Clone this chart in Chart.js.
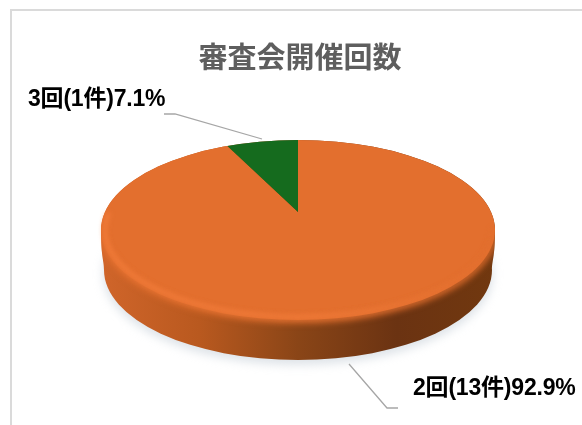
<!DOCTYPE html>
<html lang="ja">
<head>
<meta charset="utf-8">
<title>審査会開催回数</title>
<script src="https://cdn.jsdelivr.net/npm/chart.js@4/dist/chart.umd.min.js"></script>
<style>
  html, body { margin: 0; background: #fff; overflow: hidden; }
  #wrap { position: relative; width: 582px; height: 425px; overflow: hidden; }
  #frame { position: absolute; left: 10px; top: 9px; width: 572px; height: 416px; border-top: 2px solid #dadada; border-left: 2px solid #dadada; box-sizing: border-box; }
  canvas { position: absolute; left: 0; top: 0; }
</style>
</head>
<body>
<div id="wrap">
  <div id="frame"></div>
  <canvas id="chartKaisu" width="582" height="425"></canvas>
</div>
<script>
const chartTitle = "審査会開催回数";
const categorias = ["2回(13件)", "3回(1件)"];
const valores = [13, 1];
const porcentajes = ["92.9%", "7.1%"];
const colores = ["#e36f2e", "#156b1e"];

// the pie disc as it looks on screen
const disc = { x: 298, y: 230, rx: 197, ry: 90, depth: 40, bottomRx: 194 };
const tilt = 0.45;

const labelPos = [
  { x: 413, y: 389, line: [[349, 364], [387, 408], [398, 408]] },
  { x: 28, y: 100, line: [[164, 114], [175, 114], [262, 139]] },
];

const ellipsePath = (ctx, cy, rx, ry) => {
  ctx.beginPath();
  ctx.ellipse(disc.x, cy, rx, ry, 0, 0, Math.PI * 2);
};

// outline of the whole disc with its side wall
const sidePath = (ctx) => {
  const bottomY = disc.y + disc.depth;
  const { x, y, rx, ry, bottomRx } = disc;
  ctx.beginPath();
  ctx.ellipse(x, y, rx, ry, 0, Math.PI, 0, false);
  ctx.bezierCurveTo(x + rx, y + 28, x + bottomRx, y + 30, x + bottomRx, bottomY);
  ctx.ellipse(x, bottomY, bottomRx, ry, 0, 0, Math.PI);
  ctx.bezierCurveTo(x - bottomRx, y + 30, x - rx, y + 28, x - rx, y);
  ctx.closePath();
};

const pie3d = {
  id: "pie3d",
  beforeDatasetsDraw(chart) {
    const ctx = chart.ctx;
    const bottomY = disc.y + disc.depth;

    ctx.save();
    ctx.filter = "blur(5px)";
    ctx.fillStyle = "rgba(190,200,210,0.5)";
    ellipsePath(ctx, bottomY + 4, disc.bottomRx + 1, disc.ry + 1);
    ctx.fill();
    ctx.restore();

    const side = ctx.createLinearGradient(disc.x - disc.rx, 0, disc.x + disc.rx, 0);
    side.addColorStop(0, "#d0652a");
    side.addColorStop(0.25, "#b9591f");
    side.addColorStop(0.5, "#8a4517");
    side.addColorStop(0.75, "#6b3312");
    side.addColorStop(1, "#71380f");

    ctx.save();
    ctx.fillStyle = side;
    sidePath(ctx);
    ctx.fill();
    ctx.restore();
  },
  beforeDatasetDraw(chart) {
    const ctx = chart.ctx;
    const arc = chart.getDatasetMeta(0).data[0];
    ctx.save();
    ellipsePath(ctx, disc.y, disc.rx, disc.ry);
    ctx.clip();
    ctx.translate(arc.x, arc.y);
    ctx.scale(1, tilt);
    ctx.translate(-arc.x, -arc.y);
  },
  afterDatasetDraw(chart) {
    const ctx = chart.ctx;
    ctx.restore();

    // soft rim between the face and the side wall
    ctx.save();
    sidePath(ctx);
    ctx.clip();
    ctx.filter = "blur(3px)";
    ctx.strokeStyle = "#e36f2e";
    ctx.lineWidth = 6;
    ctx.beginPath();
    ctx.ellipse(disc.x, disc.y, disc.rx, disc.ry, 0, 0, Math.PI);
    ctx.stroke();
    ctx.restore();

    // lighter bevel towards the lower left of the face
    const bevel = ctx.createLinearGradient(disc.x - disc.rx, 0, disc.x + disc.rx, 0);
    bevel.addColorStop(0, "rgba(247,128,62,0.8)");
    bevel.addColorStop(0.55, "rgba(247,128,62,0.7)");
    bevel.addColorStop(1, "rgba(247,128,62,0)");

    ctx.save();
    ctx.filter = "blur(2.5px)";
    ctx.strokeStyle = bevel;
    ctx.lineWidth = 4;
    ctx.beginPath();
    ctx.ellipse(disc.x, disc.y, disc.rx - 4, disc.ry - 3, 0, 0.1, Math.PI + 0.2);
    ctx.stroke();
    ctx.restore();
  },
  afterDraw(chart) {
    const ctx = chart.ctx;
    ctx.save();
    ctx.fillStyle = "#5e5e5e";
    ctx.font = 'bold 29px "Noto Sans CJK JP"';
    ctx.textAlign = "center";
    ctx.textBaseline = "middle";
    ctx.fillText(chartTitle, 300, 57);

    categorias.forEach((cat, i) => {
      const pos = labelPos[i];
      ctx.strokeStyle = "#a6a6a6";
      ctx.lineWidth = 1.3;
      ctx.beginPath();
      pos.line.forEach(([x, y], j) => (j ? ctx.lineTo(x, y) : ctx.moveTo(x, y)));
      ctx.stroke();

      ctx.fillStyle = "#000";
      ctx.font = 'bold 23px "Liberation Sans", "Noto Sans CJK JP"';
      ctx.letterSpacing = "-0.2px";
      ctx.textBaseline = "middle";
      ctx.textAlign = "left";
      ctx.fillText(cat + porcentajes[i], pos.x, pos.y);
    });
    ctx.restore();
  },
};

const canvasKaisu = document.getElementById("chartKaisu");
const contextKaisu = canvasKaisu.getContext("2d");

const chartKaisu = new Chart(contextKaisu, {
  type: "pie",
  plugins: [pie3d],
  data: {
    labels: categorias,
    datasets: [
      {
        data: valores,
        backgroundColor: colores,
        borderWidth: 0,
        radius: 250,
        clip: false,
      },
    ],
  },
  options: {
    responsive: false,
    animation: false,
    devicePixelRatio: 1,
    layout: { padding: { left: 14, top: 0, bottom: 1 } },
    plugins: {
      legend: { display: false },
      tooltip: { enabled: false },
      title: { display: false },
    },
  },
});
</script>
</body>
</html>
